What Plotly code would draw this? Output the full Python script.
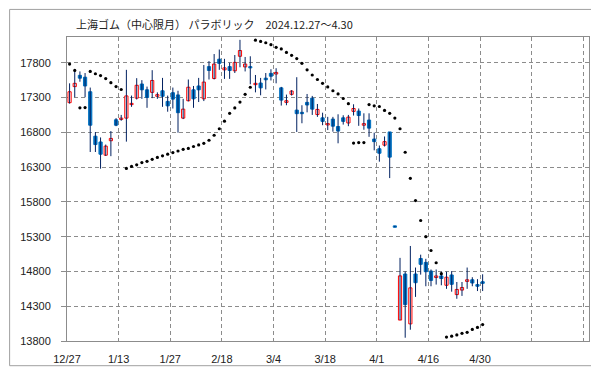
import plotly.graph_objects as go

title_text = "上海ゴム（中心限月） パラボリック　2024.12.27～4.30"

open_ = [17226, 17457, 17619, 17592, 17383, 16744, 16661, 16471, 16679, 16980,
         16985, 17004, 17198, 17291, 17494, 17411, 17374, 17318, 17397, 17244,
         17369, 17337, 17004, 17254, 17411, 17466, 17281, 17744, 17573, 17851,
         17698, 17744, 17684, 17893, 17740, 17744, 17485, 17508, 17578, 17647,
         17638, 17439, 17230, 17346, 17119, 17087, 17230, 17291, 17055, 17008,
         16906, 16990, 16883, 17008, 16934, 17101, 17105, 16902, 16976, 16703,
         16564, 16615, 16805, 15455, 14101, 14763, 14046, 14763, 14986, 14930,
         14805, 14712, 14735, 14601, 14749, 14467, 14532, 14657, 14680, 14611,
         14652]
high = [17504, 17698, 17675, 17652, 17443, 16804, 16726, 16624, 16818, 17004,
        17050, 17698, 17328, 17578, 17550, 17457, 17693, 17374, 17582, 17328,
        17443, 17397, 17281, 17559, 17466, 17582, 17767, 17823, 17925, 17990,
        17856, 17800, 17911, 18129, 17883, 17893, 17624, 17582, 17652, 17707,
        17721, 17453, 17342, 17406, 17592, 17189, 17351, 17323, 17207, 17082,
        17022, 17022, 17059, 17045, 17050, 17203, 17142, 17073, 17073, 16795,
        16610, 16740, 16805, 15455, 14995, 14800, 15166, 14856, 15041, 14981,
        14828, 14828, 14796, 14796, 14805, 14648, 14648, 14856, 14717, 14689,
        14759]
low = [17212, 17304, 17527, 17304, 16517, 16517, 16277, 16460, 16457, 16888,
       16966, 16666, 17166, 17272, 17281, 17152, 17291, 17281, 17166, 17096,
       17142, 16795, 16990, 17244, 17152, 17235, 17249, 17559, 17560, 17698,
       17568, 17568, 17652, 17735, 17675, 17490, 17374, 17332, 17416, 17545,
       17504, 17184, 17189, 17328, 16805, 16930, 17087, 17050, 17022, 16902,
       16832, 16809, 16642, 16911, 16888, 17041, 16893, 16837, 16735, 16541,
       16378, 16596, 16142, 15435, 14101, 13847, 13962, 14434, 14754, 14587,
       14587, 14611, 14601, 14550, 14509, 14407, 14448, 14550, 14587, 14518,
       14518]
close = [17383, 17504, 17578, 17466, 16902, 16624, 16485, 16601, 16712, 16902,
         17004, 17323, 17216, 17476, 17411, 17300, 17545, 17341, 17318, 17180,
         17277, 17082, 17133, 17448, 17281, 17411, 17522, 17689, 17781, 17791,
         17726, 17689, 17805, 17976, 17781, 17726, 17504, 17439, 17555, 17606,
         17661, 17263, 17254, 17393, 17068, 17068, 17193, 17133, 17129, 16957,
         16925, 16888, 16818, 16957, 17018, 17142, 17041, 16925, 16860, 16666,
         16499, 16666, 16443, 15435, 14736, 14323, 14564, 14638, 14902, 14796,
         14671, 14735, 14698, 14717, 14615, 14541, 14569, 14680, 14634, 14587,
         14629]
sar = [17781, 17690, 17152, 17155, 17675, 17642, 17615, 17573, 17513, 17457,
       17415, 16281, 16309, 16332, 16365, 16383, 16411, 16439, 16462, 16485,
       16508, 16531, 16555, 16568, 16596, 16619, 16642, 16686, 16758, 16851,
       16960, 17073, 17150, 17235, 17346, 17448, 18124, 18106, 18087, 18059,
       18022, 17999, 17948, 17906, 17860, 17791, 17698, 17624, 17559, 17504,
       17453, 17397, 17351, 17286, 17212, 16645, 16652, 16652, 17198, 17180,
       17171, 17115, 17073, 17004, 16851, 16513, 16138, 15818, 15532, 15300,
       15101, 14925, 14768, 13856, 13870, 13888, 13911, 13925, 13967, 13995,
       14036]

x_tick_labels = ["12/27", "1/13", "1/27", "2/18", "3/4", "3/18", "4/1",
                 "4/16", "4/30", "", ""]
y_ticks = [13800, 14300, 14800, 15300, 15800, 16300, 16800, 17300, 17800]
y_tick_labels = [str(v) for v in y_ticks]

RED = "#FF0000"
BLUE = "#0070C0"
NAVY = "#002060"
GRID = "#8C8C8C"

n = len(close)
idx = list(range(n))

wick_x, wick_y = [], []
for i in idx:
    wick_x += [i, i, None]
    wick_y += [low[i], high[i], None]

is_up = [c >= o for o, c in zip(open_, close)]
body_base = [min(o, c) for o, c in zip(open_, close)]
body_h = [abs(c - o) for o, c in zip(open_, close)]
body_fill = ["#FFFFFF" if u else BLUE for u in is_up]
body_line = [RED if u else BLUE for u in is_up]

fig = go.Figure()
fig.add_trace(go.Scatter(x=wick_x, y=wick_y, mode="lines",
                         line=dict(color=NAVY, width=1), hoverinfo="skip",
                         showlegend=False))
fig.add_trace(go.Bar(x=idx, y=body_h, base=body_base, width=0.62,
                     marker=dict(color=body_fill,
                                 line=dict(color=body_line, width=1)),
                     showlegend=False))
fig.add_trace(go.Scatter(x=idx, y=sar, mode="markers",
                         marker=dict(color="#000000", size=3.2),
                         showlegend=False))

W, H = 599, 369
L, R, T, B = 58, 18, 29, 26
pw, ph = W - L - R, H - T - B

grid_pos = [-0.5 + 10 * k for k in range(len(x_tick_labels))]

fig.update_layout(
    width=W, height=H,
    margin=dict(l=L, r=R, t=T, b=B, pad=0),
    paper_bgcolor="white", plot_bgcolor="white",
    barmode="overlay",
    font=dict(family="Liberation Sans, Arial, sans-serif", size=11, color="#222222"),
    xaxis=dict(range=[-0.5, 100.6], tickmode="array", tickvals=grid_pos,
               ticktext=x_tick_labels, showgrid=True, gridcolor=GRID,
               griddash="4px,3px", gridwidth=1, showline=True, mirror=True,
               linecolor=GRID, linewidth=1, ticks="", zeroline=False,
               ticklabelstandoff=8),
    yaxis=dict(range=[13800, 18170], tickmode="array", tickvals=y_ticks,
               ticktext=y_tick_labels,
               showgrid=True, gridcolor=GRID, griddash="4px,3px", gridwidth=1,
               showline=True, mirror=True, linecolor=GRID, linewidth=1,
               ticks="outside", ticklen=5, tickcolor=GRID, zeroline=False,
               ticklabelstandoff=8),
    annotations=[dict(text=title_text, x=(65 - L) / pw, y=1 + (T - 15.5) / ph,
                      xref="paper", yref="paper", xanchor="left",
                      yanchor="middle", showarrow=False,
                      font=dict(family="Noto Sans CJK JP", size=11,
                                color="#222222"))],
    shapes=[dict(type="rect", xref="paper", yref="paper",
                 x0=(0.5 - L) / pw, x1=(W - 0.5 - L) / pw,
                 y0=-(B - 0.5) / ph, y1=1 + (T - 0.5) / ph,
                 line=dict(color="#A0A0A0", width=1), layer="below")],
)

fig.write_html("out.html")
